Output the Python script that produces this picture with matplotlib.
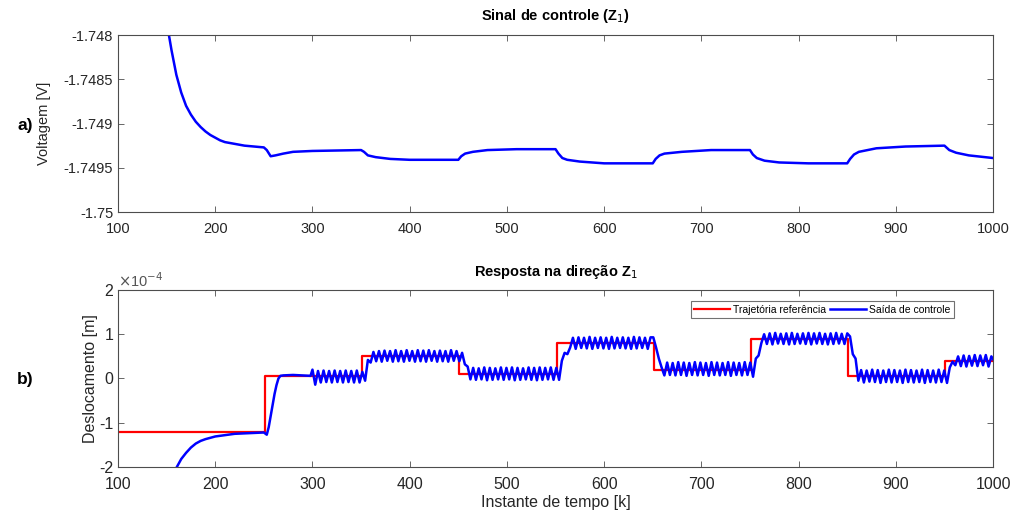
import numpy as np
import matplotlib
matplotlib.use("Agg")
import matplotlib.pyplot as plt
from matplotlib.ticker import FuncFormatter

plt.rcParams['font.family'] = ['Liberation Sans', 'DejaVu Sans']
plt.rcParams['axes.unicode_minus'] = False

# painel a) sinal de controle (Z1)
u_k = [140, 145, 150, 155, 160, 165, 170, 175, 180, 185, 190, 195, 200, 205, 210, 215,
       220, 230, 240, 250,
       253, 257, 262, 270, 280, 300, 350, 353, 357, 365, 380, 400, 450,
       453, 457, 465, 480, 510, 550, 553, 557, 562, 575, 600, 650,
       653, 657, 662, 680, 710, 750, 753, 757, 765, 780, 810, 850,
       853, 857, 862, 880, 910, 950, 955, 962, 975, 1000]
u_v = [-1.74730, -1.74755, -1.74785, -1.74817, -1.74845, -1.74865, -1.74880, -1.74890,
       -1.74898, -1.74904, -1.74909, -1.74913, -1.74916, -1.74919, -1.74921, -1.74922,
       -1.74923, -1.74925, -1.74926, -1.74927,
       -1.74930, -1.74937, -1.74936, -1.74934, -1.74932, -1.74931, -1.74930,
       -1.74932, -1.74936, -1.74938, -1.74940, -1.74941, -1.74941,
       -1.74937, -1.74934, -1.74932, -1.74930, -1.74929, -1.74929,
       -1.74934, -1.74939, -1.74941, -1.74943, -1.74945, -1.74945,
       -1.74940, -1.74936, -1.74934, -1.74932, -1.74930, -1.74930,
       -1.74935, -1.74939, -1.74942, -1.74944, -1.74945, -1.74945,
       -1.74940, -1.74935, -1.74932, -1.74928, -1.74926, -1.74925,
       -1.74930, -1.74933, -1.74936, -1.74939]

# painel b) valores em unidades de 1e-4 m
ref_k = [100, 251, 351, 451, 551, 651, 751, 851, 951, 1000]
ref_v = [-1.2, 0.05, 0.5, 0.1, 0.8, 0.2, 0.9, 0.05, 0.4, 0.4]

out_k_ini = [150, 160, 165, 170, 175, 180, 185, 190, 200, 210, 220, 230, 240, 250,
             253, 255, 257, 259, 261, 263, 265, 267, 270, 280, 290, 298]
out_v_ini = [-2.5, -2.02, -1.82, -1.68, -1.56, -1.47, -1.41, -1.37, -1.31, -1.28, -1.25,
             -1.24, -1.23, -1.22, -1.27, -1.10, -0.85, -0.60, -0.35, -0.15, 0.0, 0.06,
             0.07, 0.08, 0.07, 0.06]

# parte oscilatoria a partir de k=300 (meio periodo ~2.85 amostras)
osc_k0 = 300
osc_meio_periodo = 2.85
out_seg_a = [0.20, -0.14, 0.17, -0.09, 0.18, -0.08, 0.17, -0.09, 0.18, -0.08, 0.17,
             -0.09, 0.18, -0.08, 0.17, -0.09, 0.18, -0.09]
out_tr_1 = [0.15, -0.05, 0.42, 0.36]
out_seg_b = [0.60, 0.39, 0.62, 0.38, 0.63, 0.40, 0.62, 0.38, 0.64, 0.39, 0.62, 0.38,
             0.64, 0.40, 0.62, 0.38, 0.64, 0.39, 0.63, 0.38, 0.64, 0.40, 0.62, 0.38,
             0.63, 0.39, 0.62, 0.38, 0.64, 0.40, 0.62, 0.39]
out_tr_2 = [0.58, 0.32, 0.27]
out_seg_c = [-0.02, 0.24, -0.03, 0.23, -0.02, 0.25, -0.04, 0.24, -0.03, 0.23, -0.02,
             0.25, -0.03, 0.24, -0.02, 0.25, -0.04, 0.24, -0.03, 0.23, -0.02, 0.25,
             -0.03, 0.24, -0.04, 0.25, -0.03, 0.24, -0.02, 0.25, -0.03, 0.24]
out_tr_3 = [-0.03, 0.40, 0.58, 0.55]
out_seg_d = [0.70, 0.92, 0.67, 0.93, 0.69, 0.92, 0.68, 0.94, 0.67, 0.92, 0.69, 0.93,
             0.68, 0.92, 0.67, 0.94, 0.68, 0.92, 0.69, 0.93, 0.68, 0.92, 0.67, 0.94,
             0.68, 0.93, 0.69, 0.92, 0.67, 0.93, 0.93]
out_tr_4 = [0.70, 0.45, 0.25]
out_seg_e = [0.07, 0.36, 0.08, 0.35, 0.07, 0.37, 0.08, 0.36, 0.06, 0.35, 0.08, 0.37,
             0.07, 0.36, 0.08, 0.35, 0.06, 0.37, 0.08, 0.36, 0.07, 0.35, 0.08, 0.37,
             0.06, 0.36, 0.08, 0.35, 0.07, 0.37, 0.08, 0.36]
out_tr_5 = [0.04, 0.45, 0.52, 0.80]
out_seg_f = [1.00, 0.78, 1.02, 0.77, 1.03, 0.79, 1.01, 0.78, 1.02, 0.77, 1.03, 0.78,
             1.01, 0.79, 1.02, 0.78, 1.03, 0.77, 1.02, 0.79, 1.03, 0.78, 1.01, 0.77,
             1.02, 0.78, 1.03, 0.79, 1.01, 0.78, 1.02]
out_tr_6 = [0.95, 0.55, 0.45]
out_seg_g = [-0.05, 0.19, -0.09, 0.18, -0.07, 0.20, -0.08, 0.19, -0.10, 0.18, -0.08,
             0.20, -0.09, 0.19, -0.08, 0.18, -0.10, 0.20, -0.08, 0.19, -0.09, 0.18,
             -0.08, 0.20, -0.10, 0.19, -0.08, 0.18, -0.09, 0.20, -0.08, 0.18]
out_tr_7 = [-0.10, 0.25, 0.38]
out_seg_h = [0.30, 0.50, 0.28, 0.52, 0.27, 0.51, 0.29, 0.53, 0.28, 0.52, 0.30, 0.53,
             0.27, 0.50, 0.40]

out_osc = (out_seg_a + out_tr_1 + out_seg_b + out_tr_2 + out_seg_c + out_tr_3 +
           out_seg_d + out_tr_4 + out_seg_e + out_tr_5 + out_seg_f + out_tr_6 +
           out_seg_g + out_tr_7 + out_seg_h)
out_k = np.concatenate([out_k_ini, osc_k0 + osc_meio_periodo * np.arange(len(out_osc))])
out_v = np.concatenate([out_v_ini, out_osc]) * 1e-4

fig = plt.figure(figsize=(10.13, 5.17), dpi=100)
ax1 = fig.add_axes([0.1165, 0.5899, 0.8638, 0.3424])
ax2 = fig.add_axes([0.1165, 0.0967, 0.8638, 0.3424])

cor_eixo = '#262626'
for ax in (ax1, ax2):
    ax.set_xlim(100, 1000)
    ax.set_xticks(np.arange(100, 1001, 100))
    ax.tick_params(direction='in', top=True, right=True, length=4, width=0.6,
                   colors='#4d4d4d', labelcolor=cor_eixo)
    ax.tick_params(axis='x', pad=7)
    for s in ax.spines.values():
        s.set_color('#4d4d4d')
        s.set_linewidth(0.8)

# a)
ax1.plot(u_k, u_v, color='#0000ff', lw=1.8)
ax1.set_ylim(-1.75, -1.748)
ax1.set_yticks([-1.75, -1.7495, -1.749, -1.7485, -1.748])
ax1.yaxis.set_major_formatter(FuncFormatter(lambda v, p: '{:g}'.format(round(v, 5))))
ax1.tick_params(labelsize=10.5)
ax1.set_ylabel('Voltagem [V]', fontsize=10.5, color=cor_eixo)
ax1.yaxis.set_label_coords(-0.077, 0.5)
ax1.set_title('Sinal de controle (Z$_1$)', fontsize=10.5, fontweight='bold', pad=11)
fig.text(0.017, 0.758, 'a)', fontsize=12.5, fontweight='bold', va='center')

# b)
ax2.plot(np.array(ref_k), np.array(ref_v) * 1e-4, drawstyle='steps-post',
         color='#ff0000', lw=1.6, label='Trajetória referência')
ax2.plot(out_k, out_v, color='#0000ff', lw=1.8, label='Saída de controle')
ax2.set_ylim(-2e-4, 2e-4)
ax2.set_yticks(np.array([-2, -1, 0, 1, 2]) * 1e-4)
ax2.yaxis.set_major_formatter(FuncFormatter(lambda v, p: '{:g}'.format(round(v * 1e4, 6))))
ax2.text(0.0, 1.0, r'$\times$10$^{-4}$', transform=ax2.transAxes, fontsize=10.5,
         color='#555555', va='bottom', ha='left')
ax2.tick_params(labelsize=11.5)
ax2.set_ylabel('Deslocamento [m]', fontsize=11.5, color=cor_eixo)
ax2.yaxis.set_label_coords(-0.0225, 0.5)
ax2.set_xlabel('Instante de tempo [k]', fontsize=11.5, color=cor_eixo, labelpad=2)
ax2.set_title('Resposta na direção Z$_1$', fontsize=10.5, fontweight='bold', pad=10)
leg = ax2.legend(loc='upper right', bbox_to_anchor=(0.955, 0.935), ncol=2,
                 fontsize=7.5, handlelength=3.5, columnspacing=0.3, handletextpad=0.3,
                 fancybox=False, edgecolor='#4d4d4d', borderpad=0.3, borderaxespad=0)
leg.get_frame().set_linewidth(0.8)
fig.text(0.017, 0.265, 'b)', fontsize=12.5, fontweight='bold', va='center')

fig.savefig('out.png', dpi=100)
